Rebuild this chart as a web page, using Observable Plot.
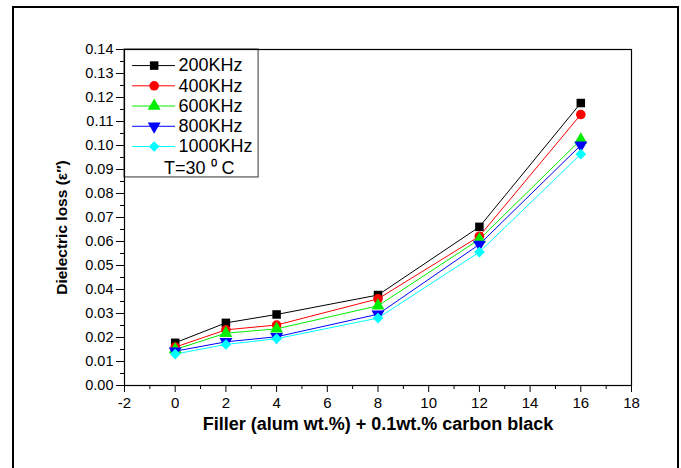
<!DOCTYPE html>
<html><head><meta charset="utf-8">
<script src="https://cdn.jsdelivr.net/npm/d3@7"></script>
<script src="https://cdn.jsdelivr.net/npm/@observablehq/plot@0.6"></script>
<style>
html,body{margin:0;padding:0;background:#fff}
#wrap{position:relative;width:681px;height:468px;overflow:hidden}
#border{position:absolute;left:12px;top:6px;width:667px;height:480px;border:2px solid #000;box-sizing:border-box;pointer-events:none}
svg{font-family:"Liberation Sans",Arial,sans-serif;background:#fff}
</style></head>
<body><div id="wrap"><div id="chart"></div><div id="border"></div></div>
<script>
const filler = [0, 2, 4, 8, 12, 16];
const series = ["200KHz", "400KHz", "600KHz", "800KHz", "1000KHz"];
const loss200 = [0.0178, 0.0261, 0.0296, 0.0377, 0.0661, 0.1177];
const loss400 = [0.0160, 0.0232, 0.0252, 0.0361, 0.0622, 0.1129];
const loss600 = [0.0150, 0.0218, 0.0236, 0.0332, 0.0609, 0.1024];
const loss800 = [0.0143, 0.0182, 0.0203, 0.0297, 0.0588, 0.1001];
const loss1000 = [0.0131, 0.0171, 0.0195, 0.0281, 0.0556, 0.0964];
const colors = ["#000000", "#ff0000", "#00ee00", "#0000ff", "#00ffff"];
const symbols = ["square", "circle", "triangle", "triangle", "diamond2"];
const xTicks = [-2, 0, 2, 4, 6, 8, 10, 12, 14, 16, 18];
const xMinor = [-1, 1, 3, 5, 7, 9, 11, 13, 15, 17];
const yTicks = [0, 0.01, 0.02, 0.03, 0.04, 0.05, 0.06, 0.07, 0.08, 0.09, 0.10, 0.11, 0.12, 0.13, 0.14];
const yMinor = [0.005, 0.015, 0.025, 0.035, 0.045, 0.055, 0.065, 0.075, 0.085, 0.095, 0.105, 0.115, 0.125, 0.135];
const xTitle = "Filler (alum wt.%) + 0.1wt.% carbon black";
const yTitle = "Dielectric loss (ε\u2033)";
const tempLabel = "T=30 \u2070 C";

const allLoss = [loss200, loss400, loss600, loss800, loss1000];
const rows = [];
series.forEach((s, i) => filler.forEach((f, j) => rows.push({series: s, x: f, y: allLoss[i][j]})));

// legend layout (in data space)
const legTop = 0.1333, legStep = 0.00843;
const legend = series.map((s, i) => ({series: s, y: legTop - i * legStep}));
const rot = s => (s === "800KHz" ? 180 : 0);

const plot = Plot.plot({
  width: 681, height: 468,
  marginLeft: 124, marginRight: 50, marginTop: 49, marginBottom: 83,
  x: {domain: [-2, 18]},
  y: {domain: [0, 0.14]},
  color: {domain: series, range: colors},
  symbol: {domain: series, range: symbols},
  marks: [
    Plot.axisX({ticks: xTicks, tickSize: 7, tickPadding: 5, tickFormat: d => String(d), fontSize: 15, label: null}),
    Plot.axisX({ticks: xMinor, tickSize: 4, tickFormat: () => "", label: null}),
    Plot.axisY({ticks: yTicks, tickSize: 8, tickPadding: 3, tickFormat: d3.format(".2f"), fontSize: 14.5, label: null}),
    Plot.axisY({ticks: yMinor, tickSize: 4, tickFormat: () => "", label: null}),
    Plot.line(rows, {x: "x", y: "y", z: "series", stroke: "series", strokeWidth: 1}),
    Plot.dot(rows, {x: "x", y: "y", symbol: "series", fill: "series", r: 4.8, rotate: d => rot(d.series)}),
    Plot.rect([{x1: -2, x2: 3.29, y1: 0.0867, y2: 0.14}], {x1: "x1", x2: "x2", y1: "y1", y2: "y2", fill: "white", stroke: "#555", strokeWidth: 1.2}),
    Plot.ruleY(legend, {y: "y", x1: -1.68, x2: 0.01, stroke: "series", strokeWidth: 1}),
    Plot.dot(legend, {x: -0.83, y: "y", symbol: "series", fill: "series", r: 4.8, rotate: d => rot(d.series)}),
    Plot.text(legend, {x: 0.13, y: "y", text: "series", textAnchor: "start", fontSize: 18, fill: "#000"}),
    Plot.text([tempLabel], {x: 0.95, y: 0.0906, text: d => d, fontSize: 18, fill: "#000"}),
    Plot.frame({stroke: "#000", strokeWidth: 1.2}),
    Plot.text([xTitle], {frameAnchor: "bottom", dy: 44, text: d => d, fontSize: 18, fontWeight: "bold", fill: "#000"}),
    Plot.text([yTitle], {frameAnchor: "left", textAnchor: "middle", dx: -62, dy: 10, rotate: -90, text: d => d, fontSize: 15.5, fontWeight: "bold", fill: "#000"})
  ]
});
document.getElementById("chart").appendChild(plot);
</script>
</body></html>
